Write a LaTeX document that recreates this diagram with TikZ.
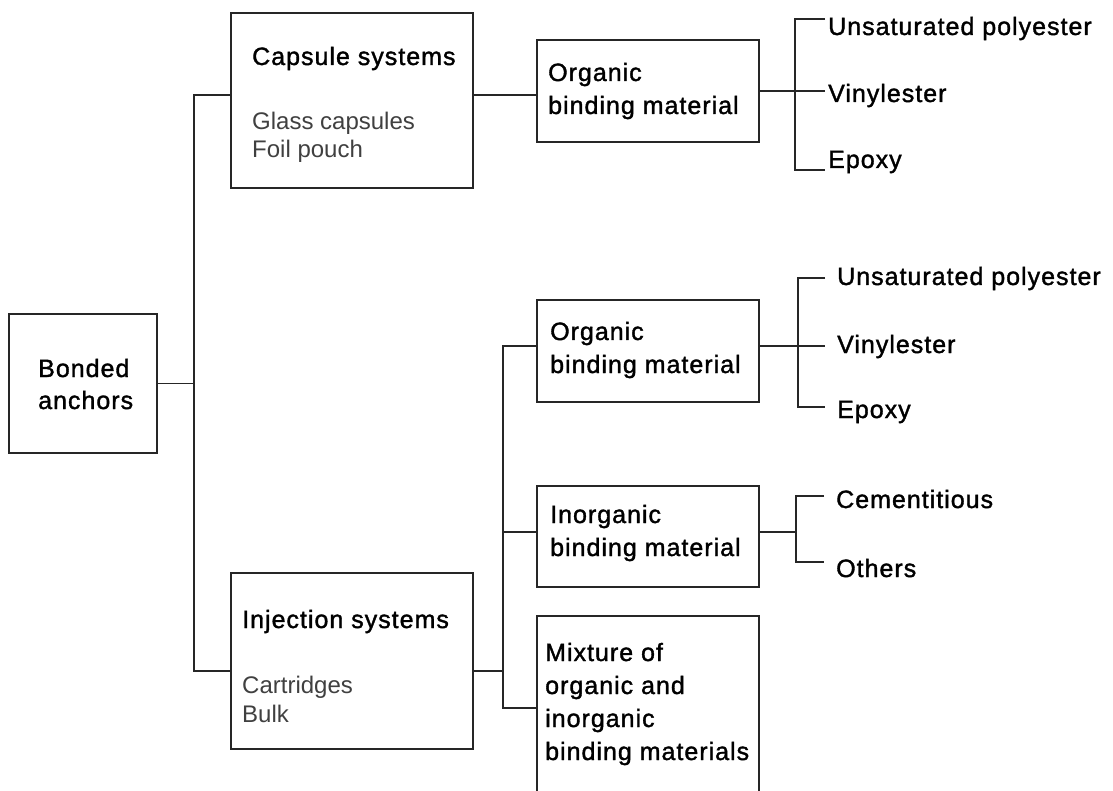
\documentclass[tikz,border=0pt]{standalone}
\usepackage{fontspec}
\setmainfont{Liberation Sans}
\newfontfamily\headfont{Liberation Sans}[LetterSpace=4,FakeBold=1.4]
\newfontfamily\itemfont{Liberation Sans}
\begin{document}
\begin{tikzpicture}[x=1pt,y=-1pt,
  box/.style={draw=black!85, line width=1.6pt, rectangle, inner sep=0pt},
  conn/.style={draw=black!85, line width=1.6pt},
  head/.style={anchor=base west, inner sep=0pt, text=black,
    font=\headfont\fontsize{25}{30}\selectfont},
  item/.style={anchor=base west, inner sep=0pt, text=black!75,
    font=\itemfont\fontsize{24}{28}\selectfont},
  leaf/.style={head, inner xsep=#1},
  leaf/.default=3pt]

% canvas
\fill[white] (0,0) rectangle (1113,791);
\useasboundingbox (0,0) rectangle (1113,791);

% ---- boxes ----
\node[box, minimum width=148pt, minimum height=139pt] (bonded) at (83,383.5) {};
\node[box, minimum width=242pt, minimum height=175pt] (cap) at (352,100.5) {};
\node[box, minimum width=242pt, minimum height=176pt] (inj) at (352,661) {};
\node[box, minimum width=222pt, minimum height=102pt] (org1) at (648,91) {};
\node[box, minimum width=222pt, minimum height=102pt] (org2) at (648,351) {};
\node[box, minimum width=222pt, minimum height=101pt] (inorg) at (648,536.5) {};
\begin{scope}
  \clip (0,0) rectangle (1113,791);
  \node[box, minimum width=222pt, minimum height=184pt] (mix) at (648,708) {};
\end{scope}

% ---- box texts ----
\node[head] (tb1) at (38,377) {Bonded};
\node[head] (tb2) at (38,409) {anchors};

\node[head] (tc1) at (252,65) {Capsule systems};
\node[item] (tc2) at (252,130) {Glass capsules};
\node[item] (tc3) at (252,158) {Foil pouch};

\node[head] (ti1) at (242,628) {Injection systems};
\node[item] (ti2) at (242,693) {Cartridges};
\node[item] (ti3) at (242,722) {Bulk};

\node[head] (to1) at (548,81) {Organic};
\node[head] (to2) at (548,114) {binding material};

\node[head] (tp1) at (550,340) {Organic};
\node[head] (tp2) at (550,373) {binding material};

\node[head] (tq1) at (550,523) {Inorganic};
\node[head] (tq2) at (550,556) {binding material};

\node[head] (tm1) at (545,661) {Mixture of};
\node[head] (tm2) at (545,694) {organic and};
\node[head] (tm3) at (545,727) {inorganic};
\node[head] (tm4) at (545,760) {binding materials};

% ---- leaf labels ----
\node[leaf] (uns1) at (825,35) {Unsaturated polyester};
\node[leaf] (vin1) at (825,102) {Vinylester};
\node[leaf] (epo1) at (825,168) {Epoxy};

\node[leaf=12pt] (uns2) at (825,285) {Unsaturated polyester};
\node[leaf=12pt] (vin2) at (825,353) {Vinylester};
\node[leaf=12pt] (epo2) at (825,418) {Epoxy};

\node[leaf=12pt] (cem) at (824,508) {Cementitious};
\node[leaf=12pt] (oth) at (824,577) {Others};

% ---- junction points ----
\coordinate (s1) at (194,95);
\coordinate (s2) at (194,671);
\coordinate (t1) at (795,19);
\coordinate (t2) at (795,91);
\coordinate (t3) at (795,170);
\coordinate (m1) at (503,346);
\coordinate (m2) at (503,708);
\coordinate (m3) at (503,532);
\coordinate (m4) at (503,671);
\coordinate (u1) at (798,278);
\coordinate (u2) at (798,346);
\coordinate (u3) at (798,407);
\coordinate (w1) at (796,496);
\coordinate (w2) at (796,532);
\coordinate (w3) at (796,562);

% ---- connectors ----
\draw[conn] (bonded.east) -- (bonded.east -| s1);
\draw[conn] (s1 -| cap.west) -- (s1) -- (s2) -- (s2 -| inj.west);
\draw[conn] (s1 -| cap.east) -- (s1 -| org1.west);

\draw[conn] (org1.east) -- (t2 -| vin1.west);
\draw[conn] (t1 -| uns1.west) -- (t1) -- (t3) -- (t3 -| epo1.west);

\draw[conn] (m4 -| inj.east) -- (m4);
\draw[conn] (m1 -| org2.west) -- (m1) -- (m2) -- (m2 -| mix.west);
\draw[conn] (m3) -- (m3 -| inorg.west);

\draw[conn] (u2 -| org2.east) -- (u2 -| vin2.west);
\draw[conn] (u1 -| uns2.west) -- (u1) -- (u3) -- (u3 -| epo2.west);

\draw[conn] (w2 -| inorg.east) -- (w2);
\draw[conn] (w1 -| cem.west) -- (w1) -- (w3) -- (w3 -| oth.west);
\end{tikzpicture}
\end{document}
